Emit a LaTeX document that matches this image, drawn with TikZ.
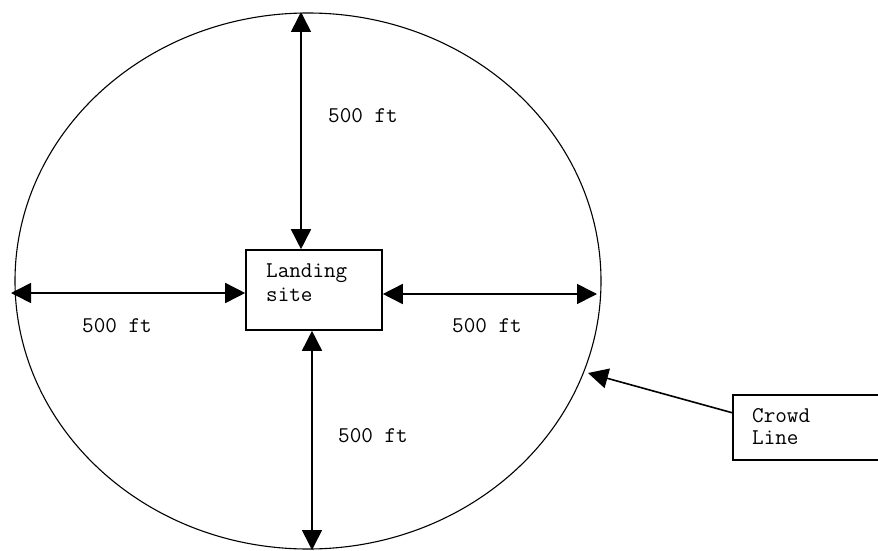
\documentclass[tikz,border=0pt]{standalone}
\usetikzlibrary{arrows.meta,shapes.geometric}
\tikzset{
  lbl/.style={font=\ttfamily\fontsize{22.5}{25}\selectfont, inner sep=0pt, anchor=base west},
  boxn/.style={draw, line width=1.6pt, inner sep=0pt},
  dim/.style={line width=1.6pt, {Triangle[length=20pt,width=20pt]}-{Triangle[length=20pt,width=20pt]}},
  onearrow/.style={line width=1.6pt, -{Triangle[length=20pt,width=20pt]}}
}
\begin{document}
\begin{tikzpicture}[x=1pt,y=-1pt]
\useasboundingbox (0,0) rectangle (878,551);
\clip (0,0) rectangle (878,551);
\fill[white] (0,0) rectangle (878,551);
% field
\node (field) [draw, line width=1.1pt, ellipse, minimum width=586pt, minimum height=536pt, inner sep=0pt] at (308,281) {};
% landing box
\node (land) [boxn, minimum width=136pt, minimum height=80pt] at (314,290) {};
\node (landA) [lbl] at (266,277.7) {Landing};
\node (landB) [lbl] at (266,301) {site};
% crowd box
\node (crowd) [boxn, minimum width=170pt, minimum height=65pt, anchor=north west] at (732,394) {};
\node (crowdA) [lbl] at (752,422.7) {Crowd};
\node (crowdB) [lbl] at (752,444) {Line};
% ends of the dimension arrows
\coordinate (topE) at (301,12);
\coordinate (botE) at (312,550);
\coordinate (leftE) at (11,293);
\coordinate (rightE) at (597,294);
\coordinate (crowdTip) at (588,373);
\coordinate (crowdStart) at (732,412.7);
\draw[dim] (topE) -- (topE |- land.north);
\draw[dim] (botE |- land.south) -- (botE);
\draw[dim] (leftE) -- (leftE -| land.west);
\draw[dim] (rightE -| land.east) -- (rightE);
\draw[onearrow] (crowdStart) -- (crowdTip);
% labels
\node (lt) [lbl] at (328,122.3) {500 ft};
\node (ll) [lbl] at (82,332.3) {500 ft};
\node (lr) [lbl] at (452,332.3) {500 ft};
\node (lb) [lbl] at (338,442.3) {500 ft};
\end{tikzpicture}
\end{document}
